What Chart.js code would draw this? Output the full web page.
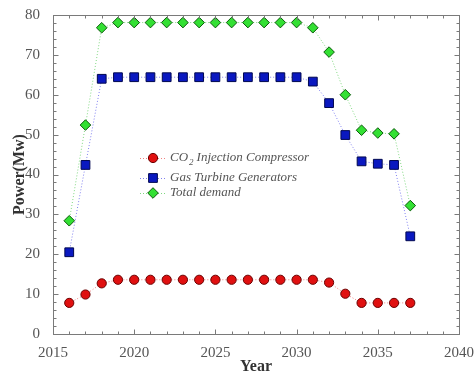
<!DOCTYPE html>
<html>
<head>
<meta charset="utf-8">
<script src="https://cdn.jsdelivr.net/npm/chart.js@4"></script>
<style>
  html, body { margin: 0; padding: 0; background: #fff; }
  #wrap { width: 476px; height: 376px; }
</style>
</head>
<body>
<div id="wrap"><canvas id="powerChart" width="476" height="376"></canvas></div>
<script>
// data
const years = [2016, 2017, 2018, 2019, 2020, 2021, 2022, 2023, 2024, 2025, 2026,
               2027, 2028, 2029, 2030, 2031, 2032, 2033, 2034, 2035, 2036, 2037];
const co2Compressor = [7.8, 9.9, 12.7, 13.6, 13.6, 13.6, 13.6, 13.6, 13.6, 13.6, 13.6,
                       13.6, 13.6, 13.6, 13.6, 13.6, 12.9, 10.1, 7.8, 7.8, 7.8, 7.8];
const gasTurbines = [20.5, 42.4, 64.0, 64.4, 64.4, 64.4, 64.4, 64.4, 64.4, 64.4, 64.4,
                     64.4, 64.4, 64.4, 64.4, 63.3, 57.9, 49.9, 43.3, 42.7, 42.4, 24.5];
const totalDemand = [28.4, 52.4, 76.8, 78.1, 78.1, 78.1, 78.1, 78.1, 78.1, 78.1, 78.1,
                     78.1, 78.1, 78.1, 78.1, 76.8, 70.7, 60.0, 51.1, 50.4, 50.2, 32.2];
const seriesNames = ["CO2 Injection Compressor", "Gas Turbine Generators", "Total demand"];
const xTicks = [2015, 2020, 2025, 2030, 2035, 2040];
const yTicks = [0, 10, 20, 30, 40, 50, 60, 70, 80];

const serif = "'Liberation Serif', 'DejaVu Serif', serif";

function toPoints(vals) {
    return vals.map((v, i) => ({ x: years[i], y: v }));
}

// frame with inward ticks on all four sides, like the original plot
const frameTicks = {
    id: "frameTicks",
    afterDraw(chart) {
        const ctx = chart.ctx;
        const xs = chart.scales.x, ys = chart.scales.y;
        const left = Math.round(xs.getPixelForValue(xs.min)) + 0.5;
        const right = Math.round(xs.getPixelForValue(xs.max)) + 0.5;
        const top = Math.round(ys.getPixelForValue(ys.max)) + 0.5;
        const bottom = Math.round(ys.getPixelForValue(ys.min)) + 0.5;
        ctx.save();
        ctx.strokeStyle = "#7a7a7a";
        ctx.lineWidth = 1;
        ctx.strokeRect(left, top, right - left, bottom - top);
        ctx.beginPath();
        for (let yr = xs.min; yr <= xs.max; yr++) {
            const px = Math.round(xs.getPixelForValue(yr)) + 0.5;
            const len = yr % 5 === 0 ? 5 : 3;
            ctx.moveTo(px, bottom); ctx.lineTo(px, bottom - len);
            ctx.moveTo(px, top); ctx.lineTo(px, top + len);
        }
        for (let v = ys.min; v <= ys.max; v += 2) {
            const py = Math.round(ys.getPixelForValue(v)) + 0.5;
            const len = v % 10 === 0 ? 5 : 3;
            ctx.moveTo(left, py); ctx.lineTo(left + len, py);
            ctx.moveTo(right, py); ctx.lineTo(right - len, py);
        }
        ctx.stroke();
        ctx.restore();
    }
};

function drawMarker(ctx, style, r, x, y) {
    if (style === "circle") {
        ctx.arc(x, y, r, 0, Math.PI * 2);
    } else if (style === "rect") {
        const s = r / Math.SQRT2;
        ctx.rect(x - s, y - s, 2 * s, 2 * s);
    } else {
        ctx.moveTo(x, y - r); ctx.lineTo(x + r, y); ctx.lineTo(x, y + r); ctx.lineTo(x - r, y);
        ctx.closePath();
    }
}

// legend drawn inside the plot area
const innerLegend = {
    id: "innerLegend",
    afterDatasetsDraw(chart) {
        const ctx = chart.ctx;
        const rows = [158, 178, 193];
        ctx.save();
        chart.data.datasets.forEach((ds, i) => {
            const y = rows[i];
            ctx.strokeStyle = ds.borderColor;
            ctx.lineWidth = 1;
            ctx.setLineDash([1, 2]);
            ctx.beginPath();
            ctx.moveTo(140, y + 0.5); ctx.lineTo(166, y + 0.5);
            ctx.stroke();
            ctx.setLineDash([]);

            ctx.fillStyle = ds.pointBackgroundColor;
            ctx.strokeStyle = ds.pointBorderColor;
            ctx.lineWidth = ds.pointBorderWidth;
            ctx.beginPath();
            drawMarker(ctx, ds.pointStyle, ds.pointRadius, 153, y);
            ctx.fill(); ctx.stroke();

            ctx.fillStyle = "#555";
            ctx.textBaseline = "middle";
            ctx.textAlign = "left";
            ctx.font = "italic 13px " + serif;
            let x = 170;
            if (i === 0) {
                ctx.fillText("CO", x, y);
                x += ctx.measureText("CO").width + 1;
                ctx.font = "italic 9px " + serif;
                ctx.fillText("2", x, y + 5);
                x += ctx.measureText("2").width + 3;
                ctx.font = "italic 13px " + serif;
                ctx.fillText("Injection Compressor", x, y);
            } else {
                ctx.fillText(ds.label, x, y);
            }
        });
        ctx.restore();
    }
};

const ctx = document.getElementById("powerChart").getContext("2d");
new Chart(ctx, {
    type: "line",
    data: {
        datasets: [
            {
                label: seriesNames[0], data: toPoints(co2Compressor),
                borderColor: "#f08080", borderWidth: 1, borderDash: [1, 2],
                pointStyle: "circle", pointRadius: 4.6, pointBorderWidth: 1,
                pointBackgroundColor: "#e01010", pointBorderColor: "#6a0000"
            },
            {
                label: seriesNames[1], data: toPoints(gasTurbines),
                borderColor: "#8080f0", borderWidth: 1, borderDash: [1, 2],
                pointStyle: "rect", pointRadius: 6.2, pointBorderWidth: 1,
                pointBackgroundColor: "#0a18c0", pointBorderColor: "#000850"
            },
            {
                label: seriesNames[2], data: toPoints(totalDemand),
                borderColor: "#80d880", borderWidth: 1, borderDash: [1, 2],
                pointStyle: "rectRot", pointRadius: 5.3, pointBorderWidth: 1,
                pointBackgroundColor: "#33e033", pointBorderColor: "#0a5a0a"
            }
        ]
    },
    options: {
        responsive: false,
        animation: false,
        devicePixelRatio: 1,
        layout: { padding: { top: 15, right: 16, left: 0, bottom: 0 } },
        plugins: { legend: { display: false }, tooltip: { enabled: false } },
        scales: {
            x: {
                type: "linear", min: 2015, max: 2040,
                afterBuildTicks: (s) => { s.ticks = xTicks.map(v => ({ value: v })); },
                afterFit: (s) => { s.height = 42; },
                grid: { display: false },
                border: { display: false },
                ticks: { color: "#555", font: { family: serif, size: 15 }, padding: 2, maxRotation: 0,
                         callback: (v) => String(v) },
                title: { display: true, text: "Year", color: "#333", padding: 0,
                         font: { family: serif, size: 16, weight: "bold" } }
            },
            y: {
                min: 0, max: 80,
                afterBuildTicks: (s) => { s.ticks = yTicks.map(v => ({ value: v })); },
                afterFit: (s) => { s.width = 53; },
                grid: { display: false },
                border: { display: false },
                ticks: { color: "#555", font: { family: serif, size: 15 }, padding: 5,
                         callback: (v) => String(v) },
                title: { display: true, text: "Power(Mw)", color: "#333", padding: { top: 10, bottom: 0 },
                         font: { family: serif, size: 16, weight: "bold" } }
            }
        }
    },
    plugins: [frameTicks, innerLegend]
});
</script>
</body>
</html>
